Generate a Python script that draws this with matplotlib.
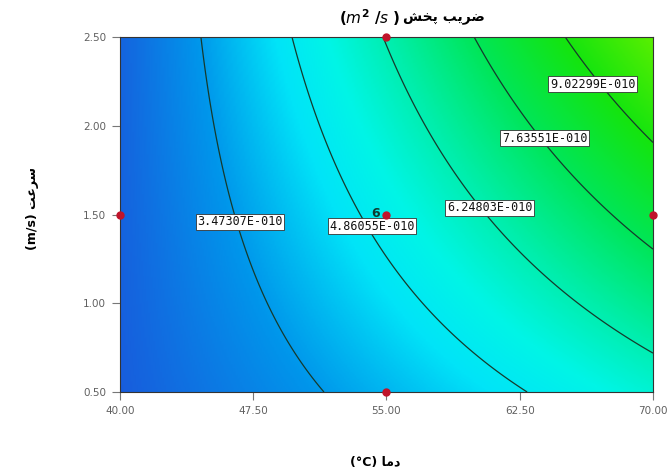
import numpy as np
import matplotlib
matplotlib.use('Agg')
import matplotlib.pyplot as plt
from matplotlib.colors import LinearSegmentedColormap

# axis ticks (temperature in C, air speed in m/s)
temp_ticks = [40.0, 47.5, 55.0, 62.5, 70.0]
speed_ticks = [0.5, 1.0, 1.5, 2.0, 2.5]

# quadratic model in coded units, x1e-10: const, A, B, AB, A^2, B^2
model_coefs = [5.15, 2.94, 1.20, 1.12, 0.0, -0.05]

# contour levels and where their labels sit
contour_levels = [3.47307e-10, 4.86055e-10, 6.24803e-10, 7.63551e-10, 9.02299e-10]
label_temps = [46.75, 54.2, 60.8, 63.9, 66.6]
label_speeds = [1.46, 1.435, 1.537, 1.93, 2.235]

# design points
design_temps = [40.0, 70.0, 55.0, 55.0, 55.0]
design_speeds = [1.5, 1.5, 0.5, 2.5, 1.5]
center_runs = 6

# colour scale (value x1e-10 -> rgb)
cmap_values = [2.0, 3.4, 4.6, 5.4, 6.4, 7.6, 9.0, 10.5]
cmap_colors = [(25, 90, 220), (0, 150, 235), (0, 228, 248), (0, 245, 230),
               (0, 238, 170), (0, 230, 90), (20, 228, 15), (95, 240, 0)]

# Persian text in visual order (presentation forms)
title_fa = '\uFEB6\uFEA8\uFB58 \uFE90\uFBFE\uFEAE\uFEBF'
ylabel_fa = '\uFE96\uFECB\uFEAE\uFEB3'
xlabel_fa = '\uFE8E\uFEE3\uFEA9'


def diffusivity(t, v):
    a = (t - 55.0) / 15.0
    b = (v - 1.5) / 1.0
    c = model_coefs
    return (c[0] + c[1] * a + c[2] * b + c[3] * a * b + c[4] * a ** 2 + c[5] * b ** 2) * 1e-10


def level_label(lvl):
    mant, exp = ('%.5E' % lvl).split('E')
    return '%sE%+04d' % (mant, int(exp))


def make_cmap():
    lo, hi = cmap_values[0], cmap_values[-1]
    nodes = [((v - lo) / (hi - lo), tuple(c / 255.0 for c in col))
             for v, col in zip(cmap_values, cmap_colors)]
    return LinearSegmentedColormap.from_list('de', nodes), lo * 1e-10, hi * 1e-10


def main():
    fig = plt.figure(figsize=(6.68, 4.72), dpi=100)
    ax = fig.add_axes([0.1796, 0.1695, 0.7979, 0.7521])

    t = np.linspace(temp_ticks[0], temp_ticks[-1], 300)
    v = np.linspace(speed_ticks[0], speed_ticks[-1], 300)
    T, V = np.meshgrid(t, v)
    D = diffusivity(T, V)

    cmap, vmin, vmax = make_cmap()
    ax.imshow(D, origin='lower', aspect='auto', cmap=cmap, vmin=vmin, vmax=vmax,
              extent=[t[0], t[-1], v[0], v[-1]], interpolation='bilinear')
    ax.contour(T, V, D, levels=contour_levels, colors='#163a2c', linewidths=0.9)

    for lvl, lt, ls in zip(contour_levels, label_temps, label_speeds):
        ax.text(lt, ls, level_label(lvl), ha='center', va='center', fontsize=8.5,
                family='DejaVu Sans Mono', color='#111111', zorder=4,
                bbox=dict(boxstyle='square,pad=0.12', fc='white', ec='#333333', lw=0.6))

    ax.plot(design_temps, design_speeds, 'o', color='#c0142a', ms=5,
            clip_on=False, zorder=6)
    ax.annotate(str(center_runs), (design_temps[-1], design_speeds[-1]),
                xytext=(-5, 1), textcoords='offset points', ha='right', va='center',
                fontsize=9, fontweight='bold', color='#0d3b30', zorder=6)

    ax.set_xlim(temp_ticks[0], temp_ticks[-1])
    ax.set_ylim(speed_ticks[0], speed_ticks[-1])
    ax.set_xticks(temp_ticks)
    ax.set_yticks(speed_ticks)
    ax.set_xticklabels(['%.2f' % x for x in temp_ticks])
    ax.set_yticklabels(['%.2f' % y for y in speed_ticks])
    ax.tick_params(direction='out', length=6, width=0.8, color='#777777',
                   labelsize=7.5, labelcolor='#606060', pad=4)
    for sp in ax.spines.values():
        sp.set_color('#333333')
        sp.set_linewidth(0.8)

    # title, axis labels
    fig.text(0.604, 0.962, title_fa, ha='left', va='center', fontsize=10,
             fontweight='bold', family='DejaVu Sans')
    fig.text(0.600, 0.962, r'$\mathbf{(}\mathit{m}^{\mathbf{2}}\ \mathbf{/}\mathit{s}\ \mathbf{)}$',
             ha='right', va='center', fontsize=11)
    fig.text(0.049, 0.559, '(m/s) ' + ylabel_fa, rotation=90, ha='center', va='center',
             fontsize=9, fontweight='bold', family='DejaVu Sans')
    fig.text(0.561, 0.021, '(\u00b0C) ' + xlabel_fa, ha='center', va='center',
             fontsize=9, fontweight='bold', family='DejaVu Sans')

    fig.savefig('out.png', dpi=100)


if __name__ == '__main__':
    main()
